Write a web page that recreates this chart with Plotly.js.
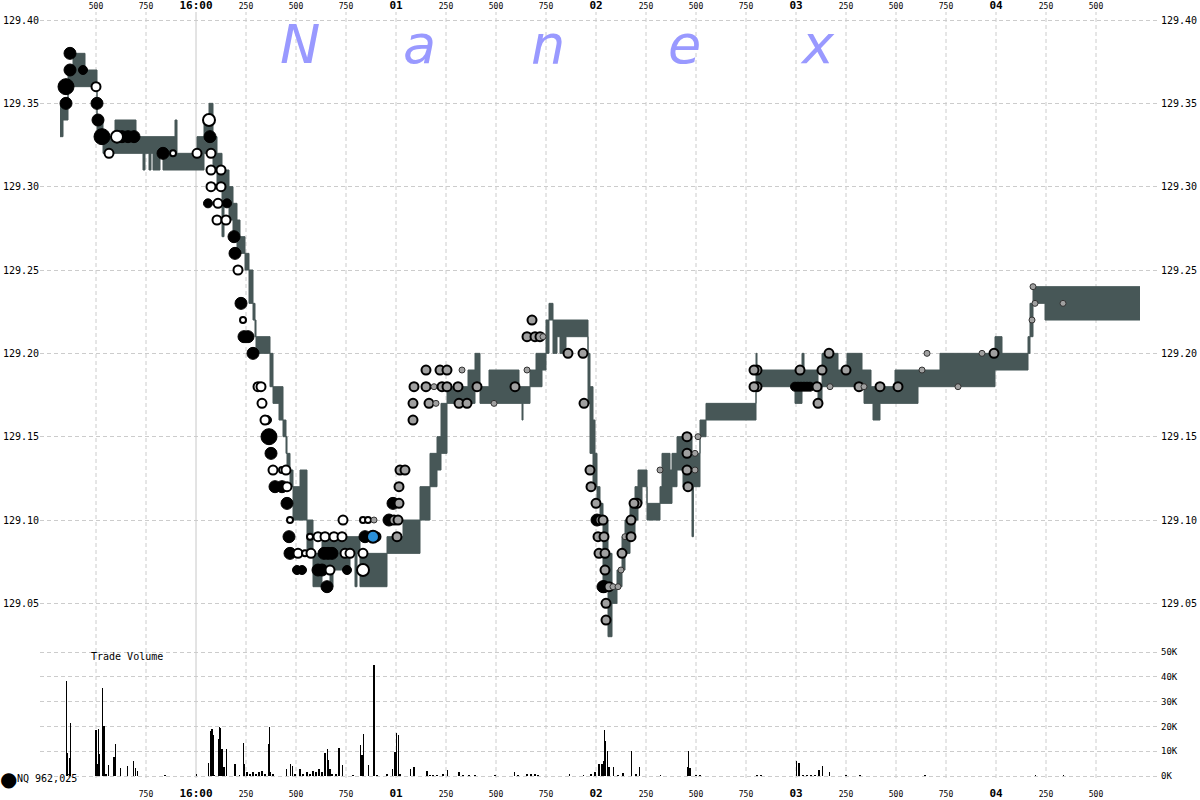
<!DOCTYPE html>
<html>
<head>
<meta charset="utf-8">
<script src="https://cdn.plot.ly/plotly-3.0.1.min.js"></script>
<style>
html,body{margin:0;padding:0;background:#fff;}
#chart{width:1200px;height:800px;}
</style>
</head>
<body>
<div id="chart"></div>
<script>
// ---------- DATA (time = ms relative to 16:00:00, price in USD) ----------
const xTickVals = [-500,-250,0,250,500,750,1000,1250,1500,1750,2000,2250,2500,2750,3000,3250,3500,3750,4000,4250,4500];
const xTickText = ["500","750","16:00","250","500","750","01","250","500","750","02","250","500","750","03","250","500","750","04","250","500"];
const xTickBold = ["16:00","01","02","03","04"];

const priceTicks = [129.05,129.10,129.15,129.20,129.25,129.30,129.35,129.40];
const volTicks = [0,10000,20000,30000,40000,50000];
const volTickText = ["0K","10K","20K","30K","40K","50K"];

// NBBO band (bid/ask steps)
const bandT = [-680,-665,-640,-615,-555,-495,-465,-405,-300,-265,-255,-235,-225,-215,-180,-165,-105,-95,5,40,65,85,105,130,140,165,185,205,220,245,265,285,295,300,370,385,415,435,450,455,470,485,520,555,585,630,670,685,770,795,805,820,955,1035,1120,1170,1205,1225,1255,1360,1395,1420,1465,1615,1630,1635,1670,1700,1730,1750,1765,1785,1805,1820,1850,1960,1970,1985,1995,2005,2020,2035,2060,2080,2105,2130,2145,2170,2195,2210,2230,2255,2320,2330,2370,2380,2405,2435,2480,2487,2520,2550,2800,2805,2995,3030,3040,3110,3130,3210,3255,3330,3340,3375,3385,3420,3495,3610,3720,3995,4030,4160,4170,4185,4245,4720];
const bandAsk = [129.35,129.35,129.37,129.38,129.37,129.34,129.33,129.34,129.33,129.33,129.33,129.33,129.33,129.33,129.33,129.33,129.34,129.32,129.33,129.34,129.35,129.33,129.32,129.31,129.31,129.30,129.29,129.28,129.27,129.26,129.25,129.23,129.22,129.21,129.20,129.18,129.18,129.16,129.15,129.14,129.13,129.12,129.13,129.10,129.08,129.09,129.09,129.09,129.09,129.09,129.09,129.08,129.09,129.10,129.12,129.14,129.15,129.17,129.18,129.19,129.20,129.18,129.19,129.18,129.18,129.18,129.19,129.20,129.20,129.22,129.23,129.22,129.22,129.22,129.22,129.20,129.18,129.16,129.14,129.12,129.11,129.10,129.08,129.06,129.07,129.09,129.10,129.11,129.12,129.13,129.13,129.11,129.12,129.14,129.13,129.14,129.15,129.15,129.14,129.14,129.16,129.17,129.20,129.19,129.19,129.20,129.19,129.18,129.20,129.19,129.20,129.19,129.19,129.18,129.18,129.18,129.19,129.19,129.20,129.21,129.20,129.21,129.23,129.24,129.24,129.24];
const bandBid = [129.33,129.34,129.36,129.36,129.36,129.33,129.32,129.32,129.32,129.31,129.32,129.31,129.32,129.31,129.32,129.31,129.31,129.31,129.31,129.32,129.32,129.31,129.30,129.27,129.29,129.28,129.27,129.26,129.26,129.25,129.23,129.22,129.21,129.20,129.18,129.17,129.16,129.15,129.14,129.13,129.12,129.10,129.10,129.08,129.06,129.07,129.06,129.07,129.08,129.06,129.08,129.06,129.08,129.08,129.10,129.12,129.13,129.14,129.17,129.17,129.18,129.17,129.17,129.17,129.16,129.17,129.18,129.18,129.19,129.20,129.22,129.20,129.21,129.20,129.21,129.17,129.14,129.12,129.12,129.11,129.10,129.06,129.03,129.05,129.06,129.07,129.08,129.09,129.10,129.11,129.12,129.10,129.11,129.11,129.11,129.12,129.13,129.12,129.09,129.12,129.15,129.16,129.18,129.18,129.17,129.18,129.18,129.17,129.18,129.18,129.18,129.18,129.17,129.17,129.16,129.17,129.17,129.18,129.18,129.19,129.19,129.20,129.21,129.23,129.22,129.22];

// Trades by reporting exchange: time, price, size class (1 small .. 4 large)
const blackT = [-630,-630,-565,-650,-650,-495,-490,-470,-370,-340,-310,-165,70,60,155,190,195,225,240,260,285,355,365,375,395,430,455,465,470,640,660,680,505,530,610,630,755,655,845,965,985,2005,2035,2040,2995,3010,3025,3040,3055,3070];
const blackP = [129.38,129.37,129.37,129.36,129.35,129.35,129.34,129.33,129.33,129.33,129.33,129.32,129.33,129.29,129.29,129.27,129.26,129.23,129.21,129.21,129.20,129.16,129.15,129.14,129.12,129.12,129.11,129.09,129.08,129.08,129.08,129.08,129.07,129.07,129.07,129.07,129.07,129.06,129.09,129.10,129.11,129.10,129.06,129.06,129.18,129.18,129.18,129.18,129.18,129.18];
const blackS = [3,3,2,4,3,3,3,4,3,3,3,3,3,2,2,3,3,3,3,3,3,2,4,3,3,3,3,3,3,3,3,3,2,2,3,3,2,3,3,3,3,3,3,3,2,2,2,2,2,2];

const whiteT = [-500,-395,-435,-115,5,65,75,75,125,75,125,110,105,150,210,235,310,325,330,345,385,430,450,455,470,735,835,860,570,610,645,690,730,510,545,575,745,770,835,670,835];
const whiteP = [129.36,129.33,129.32,129.32,129.32,129.34,129.32,129.31,129.31,129.30,129.30,129.29,129.28,129.28,129.25,129.22,129.18,129.18,129.17,129.16,129.13,129.13,129.13,129.12,129.10,129.10,129.10,129.10,129.09,129.09,129.09,129.09,129.09,129.08,129.08,129.08,129.08,129.08,129.08,129.07,129.07];
const whiteS = [2,3,2,1,2,3,2,2,2,2,2,2,2,2,2,1,2,2,2,2,2,1,2,2,1,2,1,1,1,2,2,2,2,2,1,2,2,2,2,2,3];

const grayT = [890,990,1010,900,1005,1015,1015,1020,1045,1150,1220,1255,1330,1090,1150,1190,1230,1255,1310,1405,1595,1085,1165,1200,1315,1355,1490,1085,1655,1680,1655,1695,1720,1735,1860,1935,1940,1970,1975,2000,2020,2035,2010,2040,2015,2045,2045,2065,2085,2110,2050,2050,2125,2130,2145,2175,2175,2205,2190,2320,2455,2510,2455,2495,2455,2495,2460,2805,2790,2805,2790,3165,3020,3130,3250,3105,3170,3110,3315,3340,3420,3510,3630,3655,3810,3930,3990,4185,4195,4180,4335];
const grayP = [129.10,129.10,129.10,129.09,129.09,129.11,129.12,129.13,129.13,129.19,129.19,129.19,129.19,129.18,129.18,129.18,129.18,129.18,129.18,129.18,129.18,129.17,129.17,129.17,129.17,129.17,129.17,129.16,129.19,129.22,129.21,129.21,129.21,129.21,129.20,129.20,129.17,129.13,129.12,129.11,129.10,129.10,129.09,129.09,129.08,129.08,129.07,129.06,129.06,129.06,129.05,129.04,129.07,129.08,129.09,129.09,129.10,129.11,129.11,129.13,129.15,129.15,129.14,129.14,129.13,129.13,129.12,129.18,129.18,129.19,129.19,129.20,129.19,129.19,129.19,129.18,129.18,129.17,129.18,129.18,129.18,129.18,129.19,129.20,129.18,129.20,129.20,129.24,129.23,129.22,129.23];
const grayS = [1,2,2,2,2,2,2,2,2,2,2,2,1,2,2,1,2,2,2,2,2,2,2,1,2,2,1,2,1,2,2,2,2,1,2,2,2,2,2,2,2,2,2,2,2,2,2,2,1,1,2,2,1,2,1,2,2,2,2,1,2,1,2,1,2,1,2,2,2,2,2,2,2,2,2,2,1,2,2,1,2,2,1,1,1,1,2,1,1,1,1];

const blueT = [885];
const blueP = [129.09];
const blueS = [3];

// Trade volume (contracts)
const volT = [-647,-643,-633,-627,-500,-493,-488,-483,-468,-460,-450,-438,-410,-403,-376,-343,-313,-301,-293,-155,-117,3,62,73,80,87,92,112,118,123,130,140,153,195,217,237,243,255,270,285,300,315,330,345,363,368,373,385,453,473,482,495,520,535,555,570,585,600,615,630,645,657,662,670,680,700,715,734,785,824,830,837,862,890,905,955,984,995,1004,1012,1020,1074,1090,1155,1170,1185,1205,1235,1259,1315,1335,1365,1395,1495,1594,1610,1655,1675,1695,1710,1868,1938,1975,1995,2015,2030,2038,2043,2049,2059,2065,2087,2110,2135,2177,2200,2217,2323,2460,2464,2470,2500,2520,2805,2825,3002,3015,3035,3055,3075,3095,3115,3134,3168,3250,3320,3425,3510,3645,3820,3935,3995,4198,4339];
const volQ = [38400,9200,7300,21400,18500,4800,19000,9000,35400,20000,800,4400,7500,12900,3400,4000,6000,3400,2000,400,200,1000,5400,18000,18800,16500,300,15000,19600,19500,11000,3800,10700,5000,500,13500,5000,1500,1000,1500,1000,1500,2000,1000,13100,19600,1500,1000,3000,4800,4000,1000,3000,1000,1500,1000,2000,1500,3000,1500,9300,11000,6400,3000,1000,1000,11300,4400,500,12500,8500,16800,4400,44800,500,800,3000,9800,17500,16500,800,3000,3700,2000,600,600,600,800,2400,1500,600,600,600,400,1500,300,800,800,900,600,800,600,800,1500,5000,4800,6000,18400,14000,9900,3500,3800,500,1200,9900,800,3800,300,3800,9900,3100,500,300,500,500,6200,5200,300,300,300,300,2400,4000,1800,300,300,200,200,500,200,200,200,500,500];

// ---------- STYLE / LAYOUT ----------
const SIZE_PX = {1:6, 2:9, 3:12, 4:16};
const px = arr => arr.map(s => SIZE_PX[s]);
const MONO = 'DejaVu Sans Mono';

const priceRange = [129.0268, 129.4048];
const xRange = [-780, 4820];

function tickLabel(t){
  if (xTickBold.indexOf(t) >= 0) return '<span style="font-size:11px"><b>' + t + '</b></span>';
  return t;
}
const topText = xTickText.map(tickLabel);
const botVals = xTickVals.slice(1);
const botText = xTickText.slice(1).map(tickLabel);

const traces = [
  {x: bandT, y: bandBid, type:'scatter', mode:'lines', line:{shape:'hv', width:1, color:'#475757'}, hoverinfo:'skip', xaxis:'x', yaxis:'y'},
  {x: bandT, y: bandAsk, type:'scatter', mode:'lines', line:{shape:'hv', width:1, color:'#475757'}, fill:'tonexty', fillcolor:'#475757', hoverinfo:'skip', xaxis:'x', yaxis:'y'},
  {x: blackT, y: blackP, type:'scatter', mode:'markers', marker:{size:px(blackS), opacity:1, color:'#000', line:{color:'#000', width:1}}, xaxis:'x', yaxis:'y'},
  {x: whiteT, y: whiteP, type:'scatter', mode:'markers', marker:{size:px(whiteS), opacity:1, color:'#fff', line:{color:'#000', width:2}}, xaxis:'x', yaxis:'y'},
  {x: grayT, y: grayP, type:'scatter', mode:'markers', marker:{size:px(grayS), opacity:1, color:'#a0a0a0', line:{color:grayS.map(s=>s===1?'#333':'#000'), width:grayS.map(s=>s===1?1:2)}}, xaxis:'x', yaxis:'y'},
  {x: blueT, y: blueP, type:'scatter', mode:'markers', marker:{size:px(blueS), opacity:1, color:'#2a8fd8', line:{color:'#000', width:2}}, xaxis:'x', yaxis:'y'},
  {x: volT, y: volQ, type:'bar', width:6, marker:{color:'#000', line:{width:0}}, xaxis:'x', yaxis:'y2'},
  // helper so the mirrored axes are drawn
  {x:[xTickVals[0]], y:[priceTicks[0]], type:'scatter', mode:'markers', marker:{opacity:0}, hoverinfo:'skip', xaxis:'x2', yaxis:'y3'}
];

const gridShapes = xTickVals.map(v => ({
  type:'line', xref:'x', yref:'paper', x0:v, x1:v, y0:0, y1:1, layer:'below',
  line: v === 0 ? {color:'#c8c8c8', width:1} : {color:'#cccccc', width:1, dash:'4px,3px'}
}));

const nanex = [['N',0.232],['a',0.339],['n',0.4536],['e',0.575],['x',0.6946]].map(p => ({
  text:'<i>'+p[0]+'</i>', xref:'paper', yref:'paper', x:p[1], y:0.957, xanchor:'center', yanchor:'middle',
  showarrow:false, font:{family:'DejaVu Sans', size:54, color:'#9999ff'}
}));

const layout = {
  width:1200, height:800,
  margin:{l:40, r:40, t:12, b:22, pad:0},
  paper_bgcolor:'#fff', plot_bgcolor:'#fff',
  showlegend:false, bargap:0,
  xaxis:{range:xRange, anchor:'y2', side:'bottom', tickmode:'array', tickvals:botVals, ticktext:botText,
         showgrid:false, zeroline:false, showline:false, ticks:'outside', ticklen:8, tickcolor:'rgba(0,0,0,0)',
         tickfont:{family:MONO, size:8, color:'#000'}, tickangle:0},
  xaxis2:{range:xRange, overlaying:'x', anchor:'y', side:'top', tickmode:'array', tickvals:xTickVals, ticktext:topText,
          showgrid:false, zeroline:false, showline:false, ticks:'', tickfont:{family:MONO, size:8, color:'#000'}, tickangle:0},
  yaxis:{domain:[0.1775,1], range:priceRange, anchor:'x', side:'left', tickmode:'array', tickvals:priceTicks,
         ticktext:priceTicks.map(v=>v.toFixed(2)), showgrid:true, gridcolor:'#cccccc', griddash:'4px,3px', gridwidth:1,
         zeroline:false, showline:false, ticks:'', tickfont:{family:MONO, size:10, color:'#000'}},
  yaxis3:{range:priceRange, overlaying:'y', anchor:'x', side:'right', tickmode:'array', tickvals:priceTicks,
          ticktext:priceTicks.map(v=>v.toFixed(2)), showgrid:false, zeroline:false, showline:false, ticks:'',
          tickfont:{family:MONO, size:10, color:'#000'}},
  yaxis2:{domain:[0,0.1736], range:[-806,52820], anchor:'x', side:'right', tickmode:'array', tickvals:volTicks,
          ticktext:volTickText, showgrid:true, gridcolor:'#cccccc', griddash:'4px,3px', gridwidth:1,
          zeroline:false, showline:false, ticks:'', tickfont:{family:MONO, size:9, color:'#000'}},
  shapes: gridShapes,
  annotations: nanex.concat([
    {text:'Trade Volume', xref:'paper', yref:'paper', x:0.04375, y:0.158, xanchor:'left', yanchor:'middle', showarrow:false,
     font:{family:MONO, size:10, color:'#000'}},
    {text:'●', xref:'paper', yref:'paper', x:-0.0277, y:-0.0013, xanchor:'center', yanchor:'middle', showarrow:false,
     font:{family:'DejaVu Sans', size:20, color:'#000'}},
    {text:'NQ 962,025', xref:'paper', yref:'paper', x:-0.0223, y:-0.0013, xanchor:'left', yanchor:'middle', showarrow:false,
     font:{family:MONO, size:10, color:'#000'}}
  ])
};

Plotly.newPlot('chart', traces, layout, {displayModeBar:false, staticPlot:true});
</script>
</body>
</html>
